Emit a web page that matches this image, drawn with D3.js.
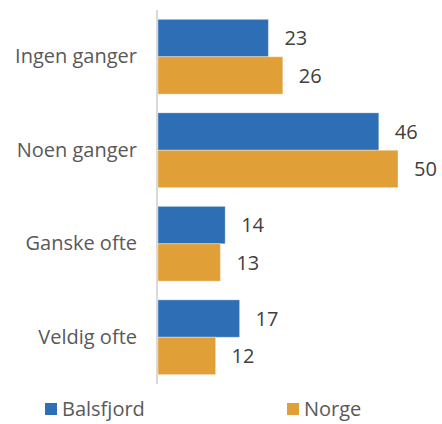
<!DOCTYPE html>
<html>
<head>
<meta charset="utf-8">
<script src="https://cdn.jsdelivr.net/npm/d3@7"></script>
<style>
  html, body { margin: 0; padding: 0; background: #fff; }
  svg { display: block; }
  text { font-family: "Open Sans", "Liberation Sans", sans-serif; fill: #595959; }
</style>
</head>
<body>
<svg id="chart" width="442" height="424"></svg>
<script>
const categories = ["Ingen ganger", "Noen ganger", "Ganske ofte", "Veldig ofte"];
const seriesNames = ["Balsfjord", "Norge"];
const balsfjord = [23, 46, 14, 17];
const norge = [26, 50, 13, 12];
const colors = ["#2e6eb4", "#e0a037"];

const svg = d3.select("#chart");
const fontSize = 20;

const x = d3.scaleLinear().domain([0, 50]).range([158, 398]);
const y = d3.scaleBand().domain(categories).range([10, 384]).paddingInner(0.2).paddingOuter(0.1);
const ySub = d3.scaleBand().domain(seriesNames).range([0, y.bandwidth()]);

const rows = categories.map((c, i) => ({
  category: c,
  values: [
    { series: seriesNames[0], value: balsfjord[i] },
    { series: seriesNames[1], value: norge[i] }
  ]
}));

const groups = svg.selectAll("g.cat")
  .data(rows)
  .join("g")
  .attr("class", "cat")
  .attr("transform", d => `translate(0,${y(d.category)})`);

groups.selectAll("rect")
  .data(d => d.values)
  .join("rect")
  .attr("x", x(0))
  .attr("y", d => ySub(d.series))
  .attr("width", d => x(d.value) - x(0))
  .attr("height", ySub.bandwidth())
  .attr("fill", (d, i) => colors[i])
  .attr("stroke", "rgba(255,255,255,0.35)")
  .attr("stroke-width", 1);

groups.selectAll("text.val")
  .data(d => d.values)
  .join("text")
  .attr("class", "val")
  .attr("x", d => x(d.value) + 16)
  .attr("y", d => ySub(d.series) + ySub.bandwidth() / 2)
  .attr("dy", "0.36em")
  .attr("font-size", fontSize)
  .style("fill", "#404040")
  .text(d => d.value);

// Category axis on the left
const yAxis = d3.axisLeft(y).tickSize(0).tickPadding(20);
const axisG = svg.append("g")
  .attr("transform", `translate(${x(0) - 1},0)`)
  .call(yAxis);
axisG.select(".domain")
  .attr("d", `M0,10V384`)
  .attr("stroke", "#d9d9d9")
  .attr("stroke-width", 2);
axisG.selectAll("text")
  .attr("font-size", fontSize)
  .style("font-family", "\"Open Sans\", \"Liberation Sans\", sans-serif")
  .style("fill", "#595959");

// Legend
const legendX = [45, 287];
const legend = svg.selectAll("g.legend")
  .data(seriesNames)
  .join("g")
  .attr("class", "legend")
  .attr("transform", (d, i) => `translate(${legendX[i]},403)`);
legend.append("rect")
  .attr("width", 12)
  .attr("height", 12)
  .attr("fill", (d, i) => colors[i]);
legend.append("text")
  .attr("x", 17)
  .attr("y", 6)
  .attr("dy", "0.36em")
  .attr("font-size", fontSize)
  .text(d => d);
</script>
</body>
</html>
